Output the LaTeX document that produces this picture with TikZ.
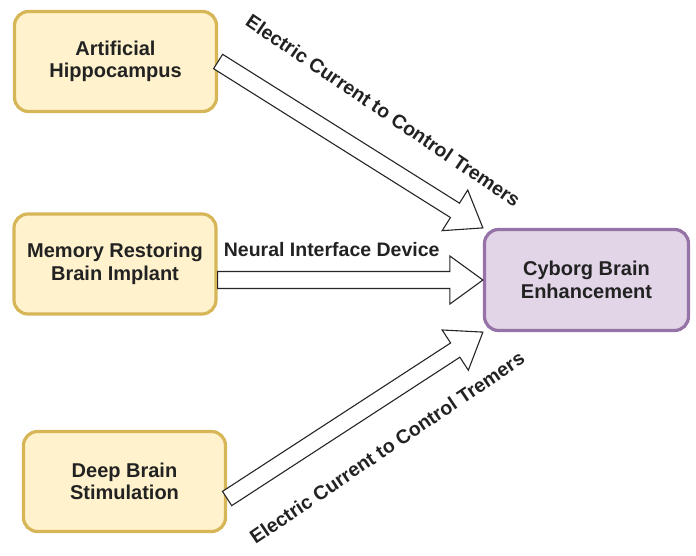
\documentclass[tikz,border=0pt]{standalone}
\usepackage{fontspec}
\setmainfont{Liberation Sans}
\usetikzlibrary{calc}

\definecolor{boxyellow}{HTML}{FFF2CC}
\definecolor{lineyellow}{HTML}{D6B656}
\definecolor{boxpurple}{HTML}{E1D5E7}
\definecolor{linepurple}{HTML}{9673A6}
\definecolor{txtgray}{HTML}{222222}

\tikzset{
  block/.style={rectangle, rounded corners=14pt, line width=3.2pt, align=center,
    text=txtgray, font=\bfseries\fontsize{20}{22.5}\selectfont},
  source/.style={block, draw=lineyellow, fill=boxyellow, minimum width=202pt, minimum height=100pt},
  target/.style={block, draw=linepurple, fill=boxpurple, minimum width=204pt, minimum height=101pt},
  fatarrow/.style={draw=black!85, fill=white, line width=1.1pt, line join=miter},
  tag/.style={font=\bfseries\fontsize{19.5}{22}\selectfont, text=txtgray, inner sep=0pt},
}

% hollow block arrow from #1 to #2
\newcommand{\blockarrow}[2]{%
  \coordinate (hb) at ($(#2)!33pt!(#1)$);
  \draw[fatarrow] ($(#1)!8.5pt!90:(#2)$) -- ($(hb)!8.5pt!90:(#2)$)
    -- ($(hb)!24pt!90:(#2)$) -- (#2) -- ($(hb)!24pt!-90:(#2)$)
    -- ($(hb)!8.5pt!-90:(#2)$) -- ($(#1)!8.5pt!-90:(#2)$) -- cycle;
}

\begin{document}
\begin{tikzpicture}[x=1pt,y=-1pt]
\useasboundingbox (0,0) rectangle (696,555);

\node[source] (hip) at (115.5,61.5) {Artificial\\Hippocampus};
\node[source] (mem) at (115,264) {Memory Restoring\\Brain Implant};
\node[source] (dbs) at (124.5,481.5) {Deep Brain\\Stimulation};
\node[target] (cyb) at (586.5,280) {Cyborg Brain\\Enhancement};

\coordinate (memout) at (mem.east |- cyb.west);
\coordinate (dbsout) at ($(dbs.east)+(0,17)$);

\blockarrow{hip.east}{cyb.north west}
\blockarrow{memout}{cyb.west}
\blockarrow{dbsout}{cyb.south west}

\path (hip.east) -- (cyb.north west)
      node[tag, pos=0.53, sloped, above=39pt, rotate=-2] {Electric Current to Control Tremers};
\path (memout) -- (cyb.west)
      node[tag, pos=0.43, above=23pt] {Neural Interface Device};
\path (dbsout) -- (cyb.south west)
      node[tag, pos=0.53, sloped, below=37pt, rotate=1] {Electric Current to Control Tremers};
\end{tikzpicture}
\end{document}
